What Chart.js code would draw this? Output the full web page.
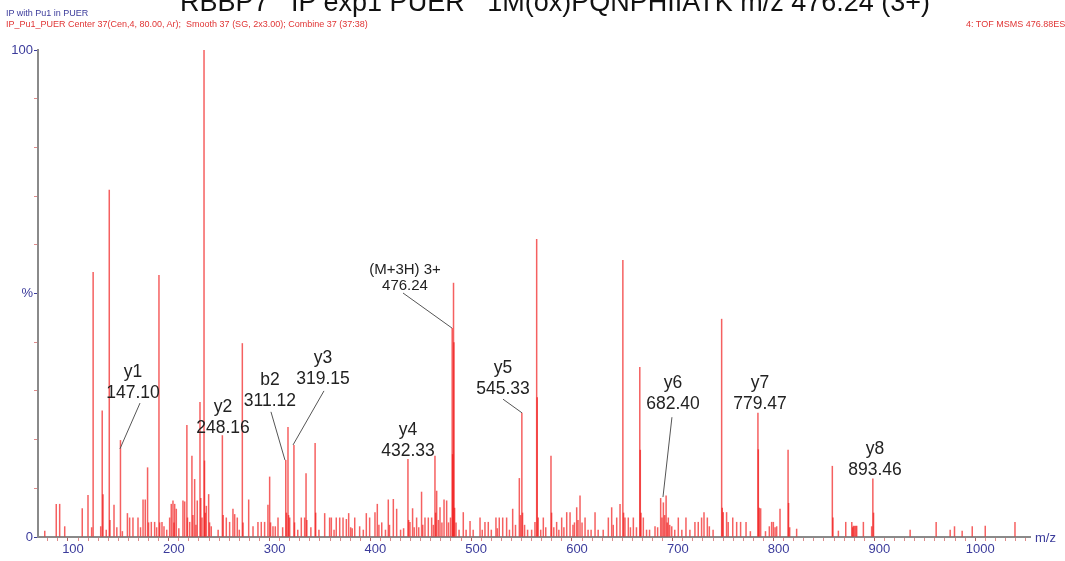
<!DOCTYPE html>
<html>
<head>
<meta charset="utf-8">
<script src="https://cdn.jsdelivr.net/npm/chart.js@4.4.1/dist/chart.umd.min.js"></script>
<style>
  html, body { margin: 0; padding: 0; background: #fff; overflow: hidden; }
  #wrap { position: relative; width: 1065px; height: 561px; overflow: hidden; font-family: "Liberation Sans", Arial, sans-serif; }
  #chart { position: absolute; left: 0; top: 0; }
  .hdr { position: absolute; white-space: pre; }
</style>
</head>
<body>
<div id="wrap">
  <canvas id="chart" width="1065" height="561"></canvas>
  <div class="hdr" style="left:180px; top:-11px; font-size:27px; line-height:27px; color:#111;">RBBP7   IP exp1 PUER   1M(ox)PQNPHIIATK m/z 476.24 (3+)</div>
  <div class="hdr" style="left:6px; top:8px; font-size:9px; line-height:10px; color:#3b3b9b;">IP with Pu1 in PUER</div>
  <div class="hdr" style="left:6px; top:19px; font-size:9px; line-height:10px; color:#e03535;">IP_Pu1_PUER Center 37(Cen,4, 80.00, Ar);  Smooth 37 (SG, 2x3.00); Combine 37 (37:38)</div>
  <div class="hdr" style="left:966px; top:19px; font-size:9px; line-height:10px; color:#e03535;">4: TOF MSMS 476.88ES+</div>
</div>
<script>
// Spectre MS/MS : m/z et intensité relative (%)
const peakMz = [
  72, 83.4, 86.8, 91.8, 109.2, 114.9, 118.5, 120, 127.5, 129, 129.8, 133, 136, 136.7, 140.7, 143.5,
  147.1, 149, 154, 156.2, 159.5, 164.5, 167, 169.5, 171.7, 174, 175, 177.7, 181, 183, 185.3, 186,
  188.3, 190.3, 193, 195.9, 197.5, 199.2, 200.2, 200.9, 202.5, 205, 209.1, 210.8, 213, 213.6, 215.8, 218,
  219, 220.7, 222, 223.3, 226, 226.8, 228, 230, 230.5, 231.2, 232.3, 234.6, 235.5, 237.2, 244, 248.2,
  249, 252.1, 255.4, 258.7, 260.4, 263, 265, 268, 268.7, 274.3, 278.6, 283.5, 286.8, 290.1, 293.4, 295.1,
  296, 298.4, 300.7, 303.4, 308, 311.1, 311.8, 313.3, 313.9, 315, 319.2, 319.8, 323, 326.5, 329.8, 331.2,
  332, 336, 340.2, 340.8, 344, 349.7, 354.6, 356.3, 359, 361.2, 364.6, 367.9, 371.2, 373.5, 375.5, 377,
  379.5, 384.4, 388, 391, 394.3, 399.6, 401.9, 403.5, 406.3, 410, 412.8, 414, 417.8, 421.1, 425, 428,
  432.3, 433, 434.3, 436.9, 438.5, 440.9, 443, 445.8, 447, 449.2, 452.5, 455.8, 457.5, 459.1, 459.8, 460.8,
  462.5, 464.1, 466, 468.1, 470.7, 472.5, 474.5, 476.2, 476.6, 477.5, 477.9, 478.6, 480, 483, 487.2, 490,
  493.9, 497, 503.8, 506, 508.7, 512, 515, 519.6, 521, 522.9, 526.3, 530.2, 533, 536.2, 539, 542.8,
  544, 545.3, 546, 548, 551, 555, 558.3, 560, 560.6, 561.5, 564, 566.6, 569, 574.2, 574.8, 577,
  579.8, 582, 584.8, 587, 589.8, 593.1, 596, 597.5, 599.7, 601, 603, 605, 608, 611, 614, 617.9,
  621, 626, 631.1, 634.4, 636, 639.4, 642.7, 645.5, 646.2, 647.6, 650.9, 653, 655.9, 659, 662.3, 662.8,
  663.5, 665.8, 669, 672, 677.4, 680, 683, 684.3, 685.7, 687, 688.4, 689.5, 690.6, 692, 694, 697,
  700.5, 704, 708.1, 712, 717, 720.3, 723.6, 726, 729.3, 731.3, 735, 743.5, 744.1, 745.1, 748.4, 750,
  754.5, 758.4, 762.3, 767.7, 772, 779.5, 779.9, 780.8, 782.2, 787, 790.8, 793.1, 794.8, 796.5, 798.1, 801.4,
  809.4, 809.9, 811, 817.9, 853.3, 853.9, 859.3, 866.6, 872.6, 873.5, 874.2, 875.3, 876.5, 877.5, 884.1, 892.3,
  893.5, 894.2, 930.5, 956.3, 970.2, 974.5, 982.1, 992.1, 1005, 1034.5
];
const peakIntensity = [
  1.3, 6.8, 6.8, 2.2, 5.9, 8.6, 2.0, 54.4, 2.2, 26, 8.8, 1.5, 71.3, 3.5, 6.6, 2.0,
  19.9, 1.2, 4.9, 4.0, 4.0, 4.0, 2.0, 7.7, 7.7, 14.3, 3.0, 3.1, 3.1, 2.0, 53.8, 3.0,
  3.1, 2.2, 1.5, 4.0, 6.8, 7.5, 3.0, 6.8, 5.8, 1.8, 7.5, 7.3, 23, 4.0, 3.1, 16.7,
  4.5, 11.9, 2.5, 7.5, 27.7, 8.0, 4.0, 100, 15.7, 5.0, 6.4, 8.8, 3.0, 2.2, 1.5, 20.9,
  4.5, 4.0, 3.1, 5.8, 4.7, 4.0, 1.5, 39.8, 3.0, 7.7, 2.2, 3.1, 3.1, 3.1, 6.6, 12.4,
  3.0, 2.2, 2.2, 4.0, 2.0, 15.8, 5.0, 22.6, 4.5, 4.0, 18.9, 3.0, 1.5, 4.0, 4.0, 13.1,
  3.5, 2.0, 19.3, 5.0, 1.5, 4.9, 4.0, 4.0, 1.5, 4.0, 4.0, 4.0, 3.7, 4.9, 2.0, 1.8,
  4.0, 2.2, 1.5, 4.9, 4.0, 5.1, 6.8, 2.5, 3.0, 1.5, 7.7, 2.5, 7.8, 5.8, 1.5, 1.8,
  16, 3.5, 3.1, 5.9, 2.0, 4.0, 2.0, 9.3, 2.5, 4.0, 4.0, 4.0, 2.5, 16.7, 5.0, 9.5,
  3.5, 6.1, 3.0, 7.7, 7.5, 3.0, 4.0, 42.9, 17, 52.2, 40, 6.0, 3.0, 1.5, 5.1, 1.5,
  3.3, 1.5, 4.0, 1.5, 3.1, 3.1, 1.5, 4.0, 1.8, 4.0, 4.0, 4.0, 1.5, 5.8, 2.5, 12.1,
  4.5, 25.5, 5.0, 2.5, 1.5, 1.5, 3.1, 61.2, 28.7, 4.0, 1.5, 4.0, 2.0, 16.7, 5.0, 2.0,
  3.1, 1.5, 4.0, 2.0, 5.1, 5.1, 2.5, 3.0, 6.1, 3.5, 8.5, 3.0, 4.0, 1.5, 1.5, 5.1,
  1.5, 1.5, 4.0, 6.1, 2.5, 4.0, 6.8, 56.9, 5.0, 4.0, 4.0, 2.0, 4.0, 2.0, 34.9, 17.9,
  5.0, 4.0, 1.5, 1.5, 2.2, 2.0, 8.0, 4.0, 7.1, 4.5, 8.5, 3.0, 4.0, 2.5, 2.2, 1.5,
  4.0, 1.5, 4.0, 1.5, 3.1, 3.1, 4.0, 5.1, 4.0, 2.2, 1.5, 44.8, 6.0, 5.1, 5.1, 3.1,
  4.0, 3.1, 3.1, 3.1, 1.2, 25.5, 18.0, 6.0, 5.9, 1.2, 2.2, 3.1, 3.1, 2.0, 2.2, 5.8,
  17.9, 7.0, 2.0, 1.7, 14.6, 4.0, 1.3, 3.1, 3.1, 2.0, 2.3, 2.3, 2.3, 2.3, 3.1, 2.2,
  12.0, 5.0, 1.5, 3.1, 1.5, 2.2, 1.3, 2.2, 2.3, 3.1
];

// Ions annotés
const ionNames = ['y1', 'y2', 'b2', 'y3', 'y4', '(M+3H) 3+', 'y5', 'y6', 'y7', 'y8'];
const ionValues = ['147.10', '248.16', '311.12', '319.15', '432.33', '476.24', '545.33', '682.40', '779.47', '893.46'];

// Axes
const xRange = [65.3, 1049.4];
const yTickLabels = { 0: '0', 50: '%', 100: '100' };

// placement des étiquettes (m/z, %) : centre du nom, début et fin du trait
const ionPlacement = [
  { at: [159.5, 33.9], from: [166.5, 27.5], to: [146.6, 18.1] },
  { at: [248.8, 26.7] },
  { at: [295.4, 32.2], from: [296.4, 25.7], to: [310.3, 15.8] },
  { at: [348.0, 36.8], from: [349.0, 30.0], to: [318.3, 18.9] },
  { at: [432.3, 22.0] },
  { at: [429.4, 54.8], from: [427.4, 50.1], to: [476.0, 42.9], small: true },
  { at: [526.6, 34.7], from: [526.6, 28.3], to: [545.4, 25.5] },
  { at: [695.2, 31.6], from: [694.2, 24.6], to: [685.3, 8.2] },
  { at: [781.5, 31.6] },
  { at: [895.6, 18.1] }
];

const blue = '#3b3b9b';
const axisGrey = '#8a8a8a';

const labelPlugin = {
  id: 'peakLabels',
  afterDatasetsDraw(chart) {
    const ctx = chart.ctx;
    const x = chart.scales.x, y = chart.scales.y;
    ctx.save();
    ionNames.forEach((name, i) => {
      const p = ionPlacement[i];
      if (p.from) {
        ctx.strokeStyle = '#555';
        ctx.lineWidth = 1;
        ctx.beginPath();
        ctx.moveTo(x.getPixelForValue(p.from[0]), y.getPixelForValue(p.from[1]));
        ctx.lineTo(x.getPixelForValue(p.to[0]), y.getPixelForValue(p.to[1]));
        ctx.stroke();
      }
      const cx = x.getPixelForValue(p.at[0]);
      const cy = y.getPixelForValue(p.at[1]);
      const size = p.small ? 15 : 17.5;
      ctx.fillStyle = '#222';
      ctx.textAlign = 'center';
      ctx.textBaseline = 'middle';
      ctx.font = size + 'px "Liberation Sans", Arial, sans-serif';
      ctx.fillText(name, cx, cy);
      ctx.fillText(ionValues[i], cx, cy + (p.small ? 16 : 21));
    });
    // libellé m/z au bout de l'axe
    ctx.fillStyle = blue;
    ctx.font = '13px "Liberation Sans", Arial, sans-serif';
    ctx.textAlign = 'left';
    ctx.textBaseline = 'middle';
    ctx.fillText('m/z', chart.chartArea.right + 5, chart.chartArea.bottom + 1);
    ctx.restore();
  }
};

const points = peakMz.map((m, i) => ({ x: m, y: peakIntensity[i] }));

new Chart(document.getElementById('chart'), {
  type: 'bar',
  data: {
    datasets: [{
      data: points,
      backgroundColor: 'rgba(240, 20, 20, 0.68)',
      borderWidth: 0,
      barThickness: 1.5,
      inflateAmount: 0
    }]
  },
  options: {
    responsive: false,
    animation: false,
    layout: { padding: { top: 50, right: 35, left: 0, bottom: 0 } },
    plugins: { legend: { display: false }, tooltip: { enabled: false } },
    scales: {
      x: {
        type: 'linear',
        min: xRange[0],
        max: xRange[1],
        offset: false,
        afterBuildTicks: (scale) => {
          const t = [];
          for (let v = 70; v <= 1040; v += 10) t.push({ value: v });
          scale.ticks = t;
        },
        afterFit: (scale) => { scale.height = 24; },
        ticks: {
          autoSkip: false,
          maxRotation: 0,
          padding: 1,
          color: blue,
          font: { family: '"Liberation Sans", Arial, sans-serif', size: 13 },
          callback: (v) => (v % 100 === 0 ? String(v) : '')
        },
        grid: {
          drawOnChartArea: false,
          drawTicks: true,
          tickLength: 4,
          tickColor: (c) => (c.tick && c.tick.value % 100 === 0 ? '#b06060' : '#e08a8a')
        },
        border: { display: true, color: axisGrey, width: 2 }
      },
      y: {
        min: 0,
        max: 100,
        afterBuildTicks: (scale) => {
          const t = [];
          for (let v = 0; v <= 100; v += 10) t.push({ value: v });
          scale.ticks = t;
        },
        afterFit: (scale) => { scale.width = 38; },
        ticks: {
          autoSkip: false,
          padding: 1,
          color: blue,
          font: { family: '"Liberation Sans", Arial, sans-serif', size: 13 },
          callback: (v) => (yTickLabels[v] !== undefined ? yTickLabels[v] : '')
        },
        grid: {
          drawOnChartArea: false,
          drawTicks: true,
          tickLength: 4,
          tickColor: (c) => (c.tick && yTickLabels[c.tick.value] !== undefined ? blue : '#e08a8a')
        },
        border: { display: true, color: axisGrey, width: 2 }
      }
    }
  },
  plugins: [labelPlugin]
});
</script>
</body>
</html>
